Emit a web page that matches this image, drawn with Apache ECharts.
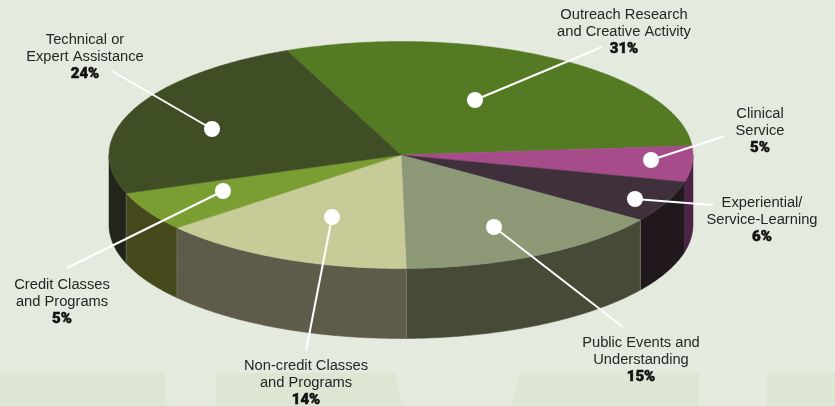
<!DOCTYPE html>
<html>
<head>
<meta charset="utf-8">
<style>html,body{margin:0;padding:0;background:#e5eadf}#c{width:835px;height:406px}</style>
<script src="https://cdn.jsdelivr.net/npm/echarts@6/dist/echarts.min.js"></script>
</head>
<body>
<div id="c"></div>
<script>
// Data
const categories = ['Outreach Research\nand Creative Activity','Clinical\nService','Experiential/\nService-Learning','Public Events and\nUnderstanding','Non-credit Classes\nand Programs','Credit Classes\nand Programs','Technical or\nExpert Assistance'];
const printedPercent = [31,5,6,15,14,5,24];
// Slice sizes as actually drawn in the picture (% of the circle)
const sliceShare = [30.1,5.1,5.9,15.0,14.2,5.6,24.1];

// Styles
const topColors  = ['#547a23','#a64c8a','#3f303c','#8d9876','#c7cb98','#7a9e32','#3f4e25'];
const wallColors = ['#4e2347','#4e2347','#21181e','#474a37','#5f5b4a','#45491c','#21251a'];
// Layout
const pie = {cx:401, cy:155, rx:292, ry:113.5, depth:70, start:-23};
const dots = [[475,100],[651,160],[635,199],[494,227],[332,217],[223,191],[212,129]];
const leaderEnds = [[602,47],[725,136],[713,205],[623,327],[306,351],[67,268],[112,71]];
const labelPos = [[624,15],[760,114],[762,203],[641,343],[306,366],[62,285],[85,40]];
const lineStep = 17;

const total = sliceShare.reduce((a,b)=>a+b,0);
function startAngle(i){let s=pie.start;for(let k=0;k<i;k++)s+=sliceShare[k]/total*360;return s;}
function pt(deg,dy){const t=deg*Math.PI/180;return [pie.cx+pie.rx*Math.sin(t),pie.cy-pie.ry*Math.cos(t)+(dy||0)];}
function arc(a,b,dy){const n=Math.max(2,Math.ceil(Math.abs(b-a)*2));const r=[];for(let j=0;j<=n;j++)r.push(pt(a+(b-a)*j/n,dy));return r;}

function renderWall(params,api){
  const i=params.dataIndex, a=startAngle(i), b=a+api.value(0)/total*360;
  const lo=Math.max(a,90), hi=Math.min(b,270);
  if(hi<=lo) return {type:'group',children:[]};
  const points=arc(lo,hi,0).concat(arc(lo,hi,pie.depth).reverse());
  const children=[{type:'polygon',shape:{points},style:{fill:wallColors[i],stroke:wallColors[i],lineWidth:0.5}}];
  if(lo===a){const p=pt(a,0),q=pt(a,pie.depth);
    children.push({type:'line',z2:2,shape:{x1:p[0],y1:p[1],x2:q[0],y2:q[1]},style:{stroke:'#8e8e7e',lineWidth:1,opacity:i===2?0.15:0.6}});}
  return {type:'group',children};
}
function renderTop(params,api){
  const i=params.dataIndex, a=startAngle(i), b=a+api.value(0)/total*360;
  const points=[[pie.cx,pie.cy]].concat(arc(a,b,0));
  return {type:'polygon',shape:{points},style:{fill:topColors[i],stroke:topColors[i],lineWidth:0.5}};
}
function renderCallout(params,api){
  const i=params.dataIndex, d=dots[i], e=leaderEnds[i], l=labelPos[i];
  const kids=[
    {type:'line',shape:{x1:d[0],y1:d[1],x2:e[0],y2:e[1]},style:{stroke:'#ffffff',lineWidth:2}},
    {type:'circle',shape:{cx:d[0],cy:d[1],r:8},style:{fill:'#ffffff'}}
  ];
  const lines=categories[i].split('\n');
  lines.forEach((t,k)=>kids.push({type:'text',x:l[0],y:l[1]+k*lineStep,style:{text:t,align:'center',verticalAlign:'middle',fill:'#262626',font:'14.7px "Liberation Sans", sans-serif'}}));
  kids.push({type:'text',x:l[0],y:l[1]+lines.length*lineStep,style:{text:printedPercent[i]+'%',align:'center',verticalAlign:'middle',fill:'#111111',stroke:'#111111',lineWidth:0.5,font:'900 15px Roboto, sans-serif'}});
  return {type:'group',children:kids};
}

const seriesData = sliceShare.map((v,i)=>({name:categories[i],value:v}));
const chart = echarts.init(document.getElementById('c'),null,{renderer:'canvas'});
chart.setOption({
  animation:false,
  backgroundColor:'#e5eadf',
  graphic:{elements:[
    {type:'polygon',silent:true,z:0,shape:{points:[[0,373],[165,373],[165,406],[0,406]]},style:{fill:'#dde5d3'}},
    {type:'polygon',silent:true,z:0,shape:{points:[[216,373],[395,373],[403,406],[216,406]]},style:{fill:'#dde5d3'}},
    {type:'polygon',silent:true,z:0,shape:{points:[[520,373],[699,373],[699,406],[512,406]]},style:{fill:'#dde5d3'}},
    {type:'polygon',silent:true,z:0,shape:{points:[[767,373],[835,373],[835,406],[767,406]]},style:{fill:'#dde5d3'}}
  ]},
  series:[
    {type:'custom',coordinateSystem:'none',z:2,silent:true,renderItem:renderWall,data:seriesData},
    {type:'custom',coordinateSystem:'none',z:3,silent:true,renderItem:renderTop,data:seriesData},
    {type:'custom',coordinateSystem:'none',z:4,silent:true,renderItem:renderCallout,data:seriesData}
  ]
});
</script>
</body>
</html>
